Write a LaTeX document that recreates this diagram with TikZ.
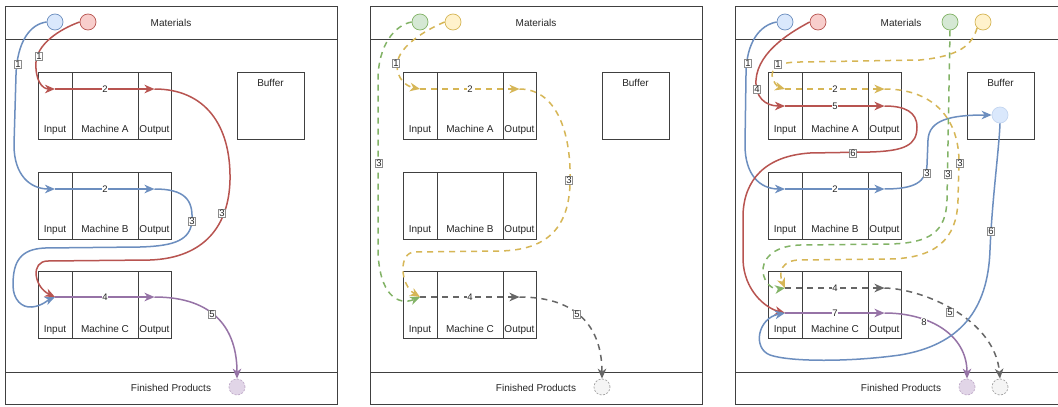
\documentclass[tikz,border=0pt]{standalone}
\usepackage{fontspec}
\setmainfont{Liberation Sans}
\usetikzlibrary{arrows.meta}
\begin{document}
\begin{tikzpicture}[x=1pt,y=-1pt,
  every node/.style={text=black!85,font=\fontsize{10}{12}\selectfont},
  zone/.style={draw=black!75,line width=0.8pt,minimum width=332pt,inner sep=0pt},
  cell/.style={draw=black!75,line width=0.8pt,minimum height=67pt,inner sep=0pt,text height=60.5pt,text depth=6.5pt},
  buffer/.style={cell,minimum width=67pt,text height=14pt,text depth=53pt},
  src/.style={circle,line width=0.7pt,minimum size=16pt,inner sep=0pt},
  sink/.style={src,dash pattern=on 2pt off 1.5pt},
  flow/.style={line width=1.5pt,line join=round,-{Stealth[length=10pt,width=8.5pt,inset=3pt]}},
  dflow/.style={flow,dash pattern=on 6pt off 5pt},
  lbl/.style={fill=white,inner sep=0.8pt,font=\fontsize{9.5}{10}\selectfont},
  lblbox/.style={lbl,draw=black!45,line width=0.4pt}]
\definecolor{bluD}{HTML}{6C8EBF}
\definecolor{bluF}{HTML}{DAE8FC}
\definecolor{redD}{HTML}{B85450}
\definecolor{redF}{HTML}{F8CECC}
\definecolor{greD}{HTML}{82B366}
\definecolor{greF}{HTML}{D5E8D4}
\definecolor{yelD}{HTML}{D6B656}
\definecolor{yelF}{HTML}{FFF2CC}
\definecolor{purD}{HTML}{9673A6}
\definecolor{purF}{HTML}{E1D5E7}
\definecolor{gryD}{HTML}{666666}
\definecolor{gryF}{HTML}{F5F5F5}
\path[use as bounding box,fill=white] (0,0) rectangle (1058,407);
\begin{scope}
\path[clip] (0,0) rectangle (1058,407);

\node[zone,minimum height=33pt] (mat1) at (171,22.5) {Materials};
\node[zone,minimum height=333pt] (hall1) at (171,205.5) {};
\node[zone,minimum height=32pt] (fp1) at (171,388) {Finished Products};
\node[cell,minimum width=34pt] (inA1) at (55,105.5) {Input};
\node[cell,minimum width=66pt] (mcA1) at (105,105.5) {Machine A};
\node[cell,minimum width=33pt] (outA1) at (154.5,105.5) {Output};
\node[cell,minimum width=34pt] (inB1) at (55,205.5) {Input};
\node[cell,minimum width=66pt] (mcB1) at (105,205.5) {Machine B};
\node[cell,minimum width=33pt] (outB1) at (154.5,205.5) {Output};
\node[cell,minimum width=34pt] (inC1) at (55,305) {Input};
\node[cell,minimum width=66pt] (mcC1) at (105,305) {Machine C};
\node[cell,minimum width=33pt] (outC1) at (154.5,305) {Output};
\node[buffer] (buf1) at (270.5,105.5) {Buffer};

\node[zone,minimum height=33pt] (mat2) at (536,22.5) {Materials};
\node[zone,minimum height=333pt] (hall2) at (536,205.5) {};
\node[zone,minimum height=32pt] (fp2) at (536,388) {Finished Products};
\node[cell,minimum width=34pt] (inA2) at (420,105.5) {Input};
\node[cell,minimum width=66pt] (mcA2) at (470,105.5) {Machine A};
\node[cell,minimum width=33pt] (outA2) at (519.5,105.5) {Output};
\node[cell,minimum width=34pt] (inB2) at (420,205.5) {Input};
\node[cell,minimum width=66pt] (mcB2) at (470,205.5) {Machine B};
\node[cell,minimum width=33pt] (outB2) at (519.5,205.5) {Output};
\node[cell,minimum width=34pt] (inC2) at (420,305) {Input};
\node[cell,minimum width=66pt] (mcC2) at (470,305) {Machine C};
\node[cell,minimum width=33pt] (outC2) at (519.5,305) {Output};
\node[buffer] (buf2) at (635.5,105.5) {Buffer};

\node[zone,minimum height=33pt] (mat3) at (901,22.5) {Materials};
\node[zone,minimum height=333pt] (hall3) at (901,205.5) {};
\node[zone,minimum height=32pt] (fp3) at (901,388) {Finished Products};
\node[cell,minimum width=34pt] (inA3) at (785,105.5) {Input};
\node[cell,minimum width=66pt] (mcA3) at (835,105.5) {Machine A};
\node[cell,minimum width=33pt] (outA3) at (884.5,105.5) {Output};
\node[cell,minimum width=34pt] (inB3) at (785,205.5) {Input};
\node[cell,minimum width=66pt] (mcB3) at (835,205.5) {Machine B};
\node[cell,minimum width=33pt] (outB3) at (884.5,205.5) {Output};
\node[cell,minimum width=34pt] (inC3) at (785,305) {Input};
\node[cell,minimum width=66pt] (mcC3) at (835,305) {Machine C};
\node[cell,minimum width=33pt] (outC3) at (884.5,305) {Output};
\node[buffer] (buf3) at (1000.5,105.5) {Buffer};

\coordinate (a1i) at (55,89);
\coordinate (a1o) at (154.5,89);
\coordinate (b1i) at (55,189);
\coordinate (b1o) at (154.5,189);
\coordinate (c1i) at (55,297);
\coordinate (c1o) at (154.5,297);
\coordinate (a2i) at (420,89);
\coordinate (a2o) at (519.5,89);
\coordinate (c2i) at (420,297);
\coordinate (c2o) at (519.5,297);
\coordinate (a3yi) at (785,89);
\coordinate (a3yo) at (884.5,89);
\coordinate (a3ri) at (785,106);
\coordinate (a3ro) at (884.5,106);
\coordinate (b3i) at (785,189);
\coordinate (b3o) at (884.5,189);
\coordinate (c3gi) at (785,288);
\coordinate (c3go) at (884.5,288);
\coordinate (c3pi) at (785,313);
\coordinate (c3po) at (884.5,313);

\node[src,draw=bluD,fill=bluF] (blu1) at (55,22) {};
\node[src,draw=redD,fill=redF] (red1) at (88,22) {};
\node[sink,draw=purD!60,fill=purF] (pur1) at (237,387) {};
\node[src,draw=greD,fill=greF] (gre2) at (420,22) {};
\node[src,draw=yelD,fill=yelF] (yel2) at (453,22) {};
\node[sink,draw=gryD!60,fill=gryF] (gry2) at (602,387) {};
\node[src,draw=bluD,fill=bluF] (blu3) at (785,22) {};
\node[src,draw=redD,fill=redF] (red3) at (818,22) {};
\node[src,draw=greD,fill=greF] (gre3) at (950,22) {};
\node[src,draw=yelD,fill=yelF] (yel3) at (983,22) {};
\node[src,draw=bluF!80!bluD,fill=bluF] (bufc3) at (1000,115) {};
\node[sink,draw=purD!60,fill=purF] (pur3) at (967,387) {};
\node[sink,draw=gryD!60,fill=gryF] (gry3) at (1000,387) {};

\draw[flow,draw=bluD] (blu1.west) .. controls (30,24) and (17,42) .. (16,75) -- (14,145) .. controls (14,175) and (30,189) .. (b1i);
\draw[flow,draw=redD] (red1.west) .. controls (68,26) and (38,40) .. (36,62) .. controls (35,80) and (42,89) .. (a1i);
\draw[flow,draw=redD] (a1i) -- (a1o);
\draw[flow,draw=bluD] (b1i) -- (b1o);
\draw[flow,draw=redD] (a1o) .. controls (205,89) and (231,125) .. (230,180) .. controls (229,225) and (205,258) .. (150,260) -- (48,261) .. controls (30,261) and (34,287) .. (c1i);
\draw[flow,draw=bluD] (b1o) .. controls (185,189) and (193,200) .. (192,220) .. controls (191,240) and (175,246) .. (140,247) -- (45,248) .. controls (20,249) and (13,262) .. (13,285) .. controls (13,300) and (22,308) .. (32,307) .. controls (42,306) and (48,300) .. (c1i);
\draw[flow,draw=purD] (c1i) -- (c1o);
\draw[flow,draw=purD] (c1o) .. controls (215,297) and (237,330) .. (pur1.north);

\draw[dflow,draw=yelD] (yel2.west) .. controls (430,28) and (398,45) .. (397,65) .. controls (397,78) and (405,86) .. (a2i);
\draw[dflow,draw=yelD] (a2i) -- (a2o);
\draw[dflow,draw=yelD] (a2o) .. controls (555,89) and (572,130) .. (570,185) .. controls (568,230) and (545,250) .. (500,251) -- (415,252) .. controls (398,252) and (400,285) .. (c2i);
\draw[dflow,draw=greD] (gre2.west) .. controls (395,25) and (378,45) .. (378,80) -- (378,250) .. controls (379,295) and (398,306) .. (c2i);
\draw[dflow,draw=gryD] (c2i) -- (c2o);
\draw[dflow,draw=gryD] (c2o) .. controls (580,297) and (602,330) .. (gry2.north);

\draw[flow,draw=bluD] (blu3.west) .. controls (760,25) and (746,42) .. (746,75) -- (745,145) .. controls (745,175) and (760,189) .. (b3i);
\draw[flow,draw=redD] (red3.west) .. controls (795,30) and (758,50) .. (756,80) .. controls (755,97) and (765,106) .. (a3ri);
\draw[dflow,draw=yelD] (yel3.south west) .. controls (972,45) and (960,56) .. (920,60) -- (800,62) .. controls (775,62) and (772,70) .. (772,75) .. controls (773,83) and (778,87) .. (a3yi);
\draw[dflow,draw=yelD] (a3yi) -- (a3yo);
\draw[flow,draw=redD] (a3ri) -- (a3ro);
\draw[flow,draw=redD] (a3ro) .. controls (905,106) and (917,112) .. (917,127) .. controls (917,145) and (905,151) .. (870,152) -- (810,153) .. controls (765,156) and (744,180) .. (743,215) -- (743,260) .. controls (744,290) and (765,308) .. (c3pi);
\draw[flow,draw=bluD] (b3i) -- (b3o);
\draw[flow,draw=bluD] (b3o) .. controls (915,189) and (926,182) .. (927,165) -- (928,140) .. controls (929,120) and (950,115) .. (bufc3.west);
\draw[dflow,draw=greD] (gre3.south) -- (947,200) .. controls (946,232) and (930,243) .. (890,244) -- (800,245) .. controls (770,246) and (762,262) .. (763,272) .. controls (764,282) and (772,290) .. (c3gi);
\draw[dflow,draw=yelD] (a3yo) .. controls (930,89) and (958,115) .. (959,160) -- (958,200) .. controls (957,240) and (935,258) .. (890,259) -- (800,260) .. controls (782,260) and (778,272) .. (c3gi);
\draw[dflow,draw=gryD] (c3gi) -- (c3go);
\draw[dflow,draw=gryD] (c3go) .. controls (925,289) and (995,320) .. (gry3.north);
\draw[flow,draw=purD] (c3pi) -- (c3po);
\draw[flow,draw=purD] (c3po) .. controls (930,313) and (967,335) .. (pur3.north);
\draw[flow,draw=bluD] (bufc3.south) .. controls (999,150) and (992,200) .. (990,250) .. controls (988,310) and (960,345) .. (900,355) .. controls (850,362) and (790,362) .. (770,355) .. controls (752,348) and (758,318) .. (c3pi);

\node[lblbox] (l1a) at (18,64) {1};
\node[lblbox] (l1b) at (39,56) {1};
\node[lbl] (l1c) at (105,89) {2};
\node[lbl] (l1d) at (105,189) {2};
\node[lblbox] (l1e) at (222,213) {3};
\node[lblbox] (l1f) at (192,221) {3};
\node[lbl] (l1g) at (105,297) {4};
\node[lblbox] (l1h) at (212,314) {5};

\node[lblbox] (l2a) at (396,63) {1};
\node[lbl] (l2b) at (470,89) {2};
\node[lblbox] (l2c) at (569,180) {3};
\node[lblbox] (l2d) at (379,163) {3};
\node[lbl] (l2e) at (470,297) {4};
\node[lblbox] (l2f) at (577,314) {5};

\node[lblbox] (l3a) at (748,63) {1};
\node[lblbox] (l3b) at (778,64) {1};
\node[lblbox] (l3c) at (757,89) {4};
\node[lbl] (l3d) at (835,89) {2};
\node[lbl] (l3e) at (835,106) {5};
\node[lblbox] (l3f) at (853,153) {6};
\node[lbl] (l3g) at (835,189) {2};
\node[lblbox] (l3h) at (927,173) {3};
\node[lblbox] (l3i) at (948,174) {3};
\node[lblbox] (l3j) at (960,163) {3};
\node[lbl] (l3k) at (835,288) {4};
\node[lblbox] (l3l) at (950,312) {5};
\node[lbl] (l3m) at (835,313) {7};
\node[lbl] (l3n) at (924,322) {8};
\node[lblbox] (l3o) at (991,231) {6};
\end{scope}
\end{tikzpicture}
\end{document}
